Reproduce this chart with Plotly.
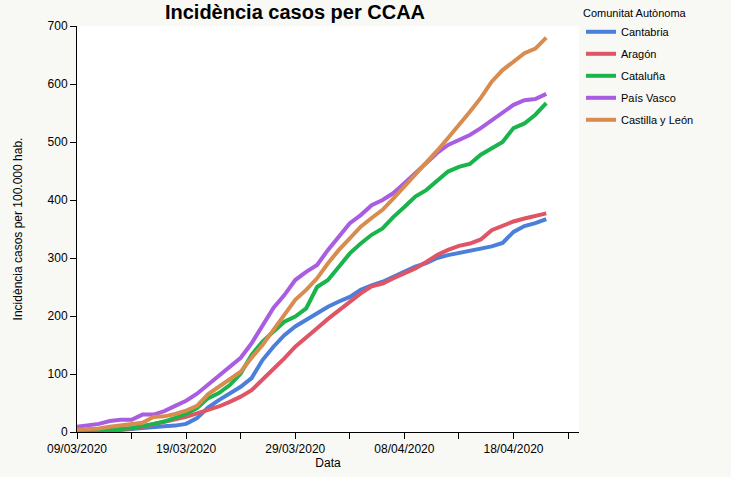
import pandas as pd
import plotly.graph_objects as go

dates = pd.date_range("2020-03-09", periods=44, freq="D")

cantabria = [0, 0, 1, 2, 3, 5, 7, 9, 10, 11, 14, 24, 42, 55, 67, 78, 93, 124, 147, 167,
             182, 193, 205, 216, 225, 233, 245, 253, 259, 268, 276, 285, 291, 300, 305, 309,
             313, 317, 320, 326, 345, 355, 360, 367]
aragon = [0, 1, 2, 3, 4, 6, 9, 13, 17, 21, 26, 32, 38, 44, 52, 61, 72, 90, 107, 127,
          147, 164, 179, 195, 210, 225, 239, 251, 256, 265, 273, 282, 293, 305, 314, 321,
          325, 332, 348, 355, 363, 368, 372, 377]
cataluna = [0, 1, 2, 3, 5, 7, 10, 14, 18, 24, 31, 41, 58, 67, 81, 101, 133, 156, 173, 190,
            199, 213, 250, 262, 285, 308, 325, 340, 351, 371, 388, 406, 417, 434, 449, 457,
            462, 478, 490, 500, 524, 532, 547, 567]
pais_vasco = [9, 11, 14, 19, 21, 21, 30, 30, 36, 45, 54, 66, 81, 98, 113, 128, 153, 184, 214, 236,
              262, 276, 288, 314, 337, 360, 374, 391, 400, 412, 429, 446, 463, 481, 495, 503,
              512, 524, 538, 552, 564, 572, 574, 583]
castilla_leon = [4, 5, 6, 9, 11, 13, 16, 26, 27, 31, 37, 45, 65, 78, 90, 104, 128, 150, 176, 202,
                 228, 245, 265, 291, 314, 334, 354, 369, 383, 403, 423, 443, 463, 485, 507, 529,
                 552, 576, 604, 624, 638, 653, 661, 680]

series_names = ["Cantabria", "Aragón", "Cataluña", "País Vasco", "Castilla y León"]
series_values = [cantabria, aragon, cataluna, pais_vasco, castilla_leon]
colors = ["#4a80d9", "#df5566", "#19b44b", "#a95de0", "#d98c50"]

FONT = "Liberation Sans, Arial, Helvetica, sans-serif"

fig = go.Figure()
for name, vals, col in zip(series_names, series_values, colors):
    fig.add_trace(go.Scatter(x=dates, y=vals, mode="lines", name=name, legendgroup=name,
                             line=dict(color=col, width=4)))

fig.update_layout(
    width=731, height=477,
    paper_bgcolor="#f8f8f4",
    plot_bgcolor="#ffffff",
    font=dict(family=FONT, size=12, color="#000000"),
    margin=dict(l=77, r=152, t=26, b=45, pad=0),
    title=dict(text="<b>Incidència casos per CCAA</b>", x=295/731, xref="container",
               xanchor="center", y=1 - 12/477, yref="container", yanchor="middle",
               font=dict(family=FONT, size=20, color="#000000")),
    showlegend=True,
    legend=dict(title=dict(text="Comunitat Autònoma", font=dict(size=11)),
                font=dict(size=11), x=581/731, xref="container", xanchor="left",
                y=1 - 3/477, yref="container", yanchor="top",
                bgcolor="rgba(0,0,0,0)", itemwidth=30, tracegroupgap=3),
    xaxis=dict(type="date", range=["2020-03-09", "2020-04-24"],
               tick0="2020-03-09", dtick=10*86400000, tickformat="%d/%m/%Y",
               ticks="outside", ticklen=6, tickcolor="#000000",
               minor=dict(dtick=5*86400000, tick0="2020-03-09", ticks="outside",
                          ticklen=6, tickcolor="#000000", showgrid=False),
               showgrid=False, showline=True, linecolor="#000000", linewidth=1,
               zeroline=False, automargin=False,
               title=dict(text="Data", font=dict(size=12), standoff=2)),
    yaxis=dict(range=[0, 700], dtick=100, ticks="outside", ticklen=6,
               tickcolor="#000000", showgrid=False, showline=True,
               linecolor="#000000", linewidth=1, zeroline=False, automargin=False,
               title=dict(text="Incidència casos per 100.000 hab.", font=dict(size=12),
                          standoff=22)),
)

fig.write_html("out.html")
